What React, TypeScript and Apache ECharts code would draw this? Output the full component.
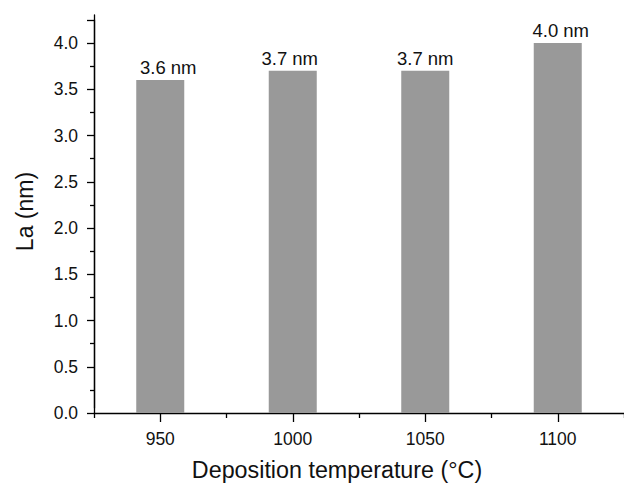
import React, { useEffect, useRef } from "react";
import * as echarts from "echarts";

const categories = ["950", "1000", "1050", "1100"];
const laValues = [3.6, 3.7, 3.7, 4.0];
const yTicks = { min: 0, max: 4.25, interval: 0.5 };

export default function App() {
  const ref = useRef<HTMLDivElement>(null);
  useEffect(() => {
    if (!ref.current) return;
    const chart = echarts.init(ref.current, null, { renderer: "svg" });
    const font = "'Liberation Sans', Arial, Helvetica, sans-serif";
    const black = "#000";
    const labelOffsets = [[8, 0], [-3, 0], [0, 0], [3, 0]];
    chart.setOption({
      animation: false,
      backgroundColor: "#fff",
      textStyle: { fontFamily: font },
      grid: [
        { left: 94, top: 19.9, width: 536, bottom: 73, containLabel: false },
        { left: 94, top: 15, width: 486, bottom: 73, containLabel: false },
      ],
      xAxis: [
        {
          type: "category",
          gridIndex: 0,
          data: categories,
          boundaryGap: true,
          axisLine: { show: true, lineStyle: { color: black, width: 1.3 } },
          axisTick: { show: true, alignWithLabel: true, length: 9, inside: false, lineStyle: { color: black, width: 1.3 } },
          axisLabel: { show: true, margin: 17, fontSize: 17.5, color: "#111", fontFamily: font },
          splitLine: { show: false },
        },
        {
          type: "category",
          gridIndex: 0,
          data: categories,
          position: "bottom",
          boundaryGap: true,
          axisLine: { show: false },
          axisTick: { show: true, alignWithLabel: false, length: 5, lineStyle: { color: black, width: 1.3 } },
          axisLabel: { show: false },
          splitLine: { show: false },
        },
        {
          type: "category",
          gridIndex: 1,
          data: categories,
          axisLine: { show: false },
          axisTick: { show: false },
          axisLabel: { show: false },
          splitLine: { show: false },
          name: "Deposition temperature (°C)",
          nameLocation: "middle",
          nameGap: 50,
          nameTextStyle: { fontSize: 23.3, color: "#111", fontFamily: font },
        },
      ],
      yAxis: [
        {
          type: "value",
          gridIndex: 0,
          min: yTicks.min,
          max: yTicks.max,
          interval: yTicks.interval,
          axisLine: { show: true, lineStyle: { color: black, width: 1.3 } },
          axisTick: { show: true, length: 7, inside: false, lineStyle: { color: black, width: 1.3 } },
          minorTick: { show: true, splitNumber: 2, length: 4, lineStyle: { color: black, width: 1.3 } },
          axisLabel: {
            show: true,
            margin: 16,
            fontSize: 17.5,
            color: "#111",
            fontFamily: font,
            showMaxLabel: false,
            formatter: (v: number) => v.toFixed(1),
          },
          splitLine: { show: false },
          minorSplitLine: { show: false },
        },
        {
          type: "value",
          gridIndex: 1,
          min: 0,
          max: 4.3,
          axisLine: { show: true, lineStyle: { color: black, width: 1.3 } },
          axisTick: { show: false },
          axisLabel: { show: false },
          splitLine: { show: false },
          name: "La (nm)",
          nameLocation: "middle",
          nameRotate: 90,
          nameGap: 58,
          nameTextStyle: { fontSize: 23, color: "#111", fontFamily: font },
        },
      ],
      series: [
        {
          type: "bar",
          xAxisIndex: 0,
          yAxisIndex: 0,
          data: laValues.map((v, i) => ({ value: v, label: { offset: labelOffsets[i] } })),
          barWidth: 48,
          itemStyle: { color: "#999999" },
          label: {
            show: true,
            position: "top",
            distance: 3,
            fontSize: 18.5,
            color: "#111",
            fontFamily: font,
            formatter: (p: any) => `${Number(p.value).toFixed(1)} nm`,
          },
        },
      ],
    });
    return () => chart.dispose();
  }, []);
  return <div ref={ref} style={{ width: 624, height: 486, position: "absolute", left: 0, top: 0 }} />;
}
